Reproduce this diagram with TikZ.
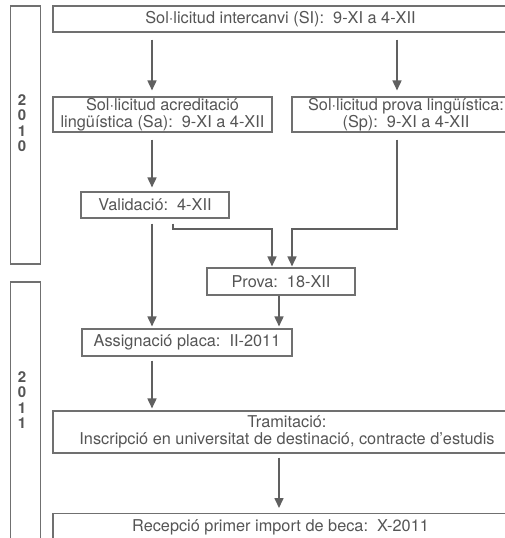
\documentclass[tikz,border=0pt]{standalone}
\usepackage{fontspec}
\setmainfont{TeX Gyre Heros}
\usetikzlibrary{arrows.meta,calc}
\definecolor{linegray}{HTML}{707070}
\definecolor{arrgray}{HTML}{606060}
\definecolor{txtgray}{HTML}{555555}
\begin{document}
\begin{tikzpicture}[x=1pt,y=-1pt,
  box/.style={draw=linegray,line width=1.1pt,inner sep=0pt,text=txtgray,
    font=\fontsize{16.3}{16.5}\selectfont,align=center},
  bar/.style={draw=linegray,line width=1.1pt},
  arr/.style={draw=arrgray,line width=1.6pt,-{Triangle[length=10pt,width=9pt]}},
  yr/.style={text=txtgray,font=\fontsize{15}{15.4}\selectfont\bfseries,align=center,inner sep=0pt}]
\useasboundingbox (0,0) rectangle (505,538);
\clip (0,0) rectangle (505,538);
% year bars
\draw[bar] (10.5,6) rectangle (40.5,264);
\draw[bar] (10.5,282) rectangle (40.5,620);
\node[yr] (y2010) at (22,123) {2\\0\\1\\0};
\node[yr] (y2011) at (22,400) {2\\0\\1\\1};
% boxes
\node[box,minimum width=455pt,minimum height=26pt] (SI) at (280.5,19) {Sol·licitud intercanvi (SI):~~9-XI a 4-XII};
\node[box,minimum width=219pt,minimum height=35pt] (Sa) at (162.5,114.5) {Sol·licitud acreditació\\lingüística (Sa):~~9-XI a 4-XII};
\node[box,minimum width=228pt,minimum height=35pt] (Sp) at (406,114.5) {Sol·licitud prova lingüística:\\(Sp):~~9-XI a 4-XII};
\node[box,minimum width=148pt,minimum height=26pt] (Val) at (155,205) {Validació:~~4-XII};
\node[box,minimum width=148pt,minimum height=27pt] (Prova) at (281,281.5) {Prova:~~18-XII};
\node[box,minimum width=210pt,minimum height=27pt] (Asg) at (187,342.5) {Assignació placa:~~II-2011};
\node[box,minimum width=468pt,minimum height=42pt] (Tram) at (287,432) {Tramitació:\\Inscripció en universitat de destinació, contracte d’estudis};
\node[box,anchor=north,minimum width=455pt,text height=12pt,text depth=4pt,inner ysep=6pt] (Rec) at (280.5,513) {Recepció primer import de beca:~~X-2011};
% arrow columns
\coordinate (cL) at (152,0);
\coordinate (cR) at (397,0);
\coordinate (cV) at (173,0);
\coordinate (cP1) at (272,0);
\coordinate (cP2) at (292,0);
\coordinate (cA) at (279,0);
\coordinate (jY) at (0,229);
% connectors
\draw[arr,shorten <=7pt,shorten >=6pt] (SI.south -| cL) -- (Sa.north -| cL);
\draw[arr,shorten <=7pt,shorten >=6pt] (SI.south -| cR) -- (Sp.north -| cR);
\draw[arr,shorten <=7pt,shorten >=4pt] (Sa.south -| cL) -- (Val.north -| cL);
\draw[arr,shorten <=7pt,shorten >=1pt] (Sp.south -| cR) -- (jY -| cR) -- (jY -| cP2) -- (Prova.north -| cP2);
\draw[arr,shorten <=5pt,shorten >=1pt] (Val.south -| cV) -- (jY -| cV) -- (jY -| cP1) -- (Prova.north -| cP1);
\draw[arr,shorten <=5pt,shorten >=2pt] (Val.south -| cL) -- (Asg.north -| cL);
\draw[arr,shorten >=2pt] (Prova.south -| cA) -- (Asg.north -| cA);
\draw[arr,shorten <=4pt,shorten >=2pt] (Asg.south -| cL) -- (Tram.north -| cL);
\draw[arr,shorten <=4pt,shorten >=5pt] (Tram.south -| cA) -- (Rec.north -| cA);
\end{tikzpicture}
\end{document}
